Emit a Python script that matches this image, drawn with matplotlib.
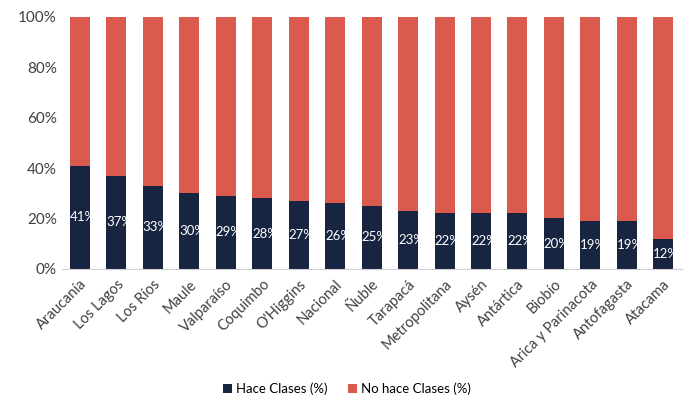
import matplotlib.pyplot as plt
import numpy as np

plt.rcParams['font.family'] = ['Lato', 'DejaVu Sans']

regiones = ['Araucanía', 'Los Lagos', 'Los Ríos', 'Maule', 'Valparaíso', 'Coquimbo',
            "O'Higgins", 'Nacional', 'Ñuble', 'Tarapacá', 'Metropolitana', 'Aysén',
            'Antártica', 'Biobío', 'Arica y Parinacota', 'Antofagasta', 'Atacama']
hace = [41, 37, 33, 30, 29, 28, 27, 26, 25, 23, 22, 22, 22, 20, 19, 19, 12]
no_hace = [100 - v for v in hace]

azul = '#172540'
rojo = '#DB5A4E'

fig = plt.figure(figsize=(6.94, 4.03), dpi=100)
fig.patch.set_facecolor('white')
ax = fig.add_axes([0.089, 0.333, 0.893, 0.625])

x = np.arange(len(regiones))
b1 = ax.bar(x, hace, width=0.55, color=azul, label='Hace Clases (%)')
b2 = ax.bar(x, no_hace, width=0.55, bottom=hace, color=rojo, label='No hace Clases (%)')

for xi, v in zip(x, hace):
    ax.text(xi + 0.08, v / 2, f'{v}%', ha='center', va='center', color='white', fontsize=9.5)

ax.set_xlim(-0.5, len(regiones) - 0.5)
ax.set_ylim(0, 100)
ax.set_yticks(range(0, 101, 20))
ax.set_yticklabels([f'{t}%' for t in range(0, 101, 20)], fontsize=11, color='#404040')
ax.set_xticks(x)
ax.set_xticklabels(regiones, rotation=45, ha='right', rotation_mode='anchor', fontsize=10.5, color='#404040')
ax.tick_params(length=0)
ax.tick_params(axis='x', pad=6)
for s in ['top', 'right', 'left']:
    ax.spines[s].set_visible(False)
ax.spines['bottom'].set_color('#d0d0d0')

fig.legend(handles=[b1, b2], loc='center', bbox_to_anchor=(0.5, 0.035), ncol=2, frameon=False,
           fontsize=9.5, handlelength=0.7, handleheight=0.7, columnspacing=1.5, handletextpad=0.3)

fig.savefig('out.png', dpi=100)
